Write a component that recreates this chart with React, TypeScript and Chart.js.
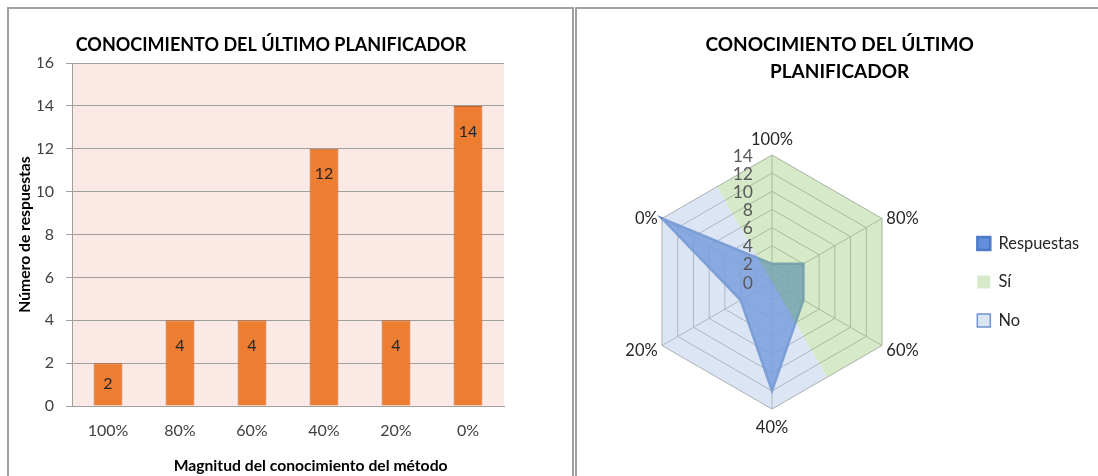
import React, { useEffect, useRef } from "react";
import { Chart, registerables } from "chart.js";

Chart.register(...registerables);

// Categorías (magnitud del conocimiento) y número de respuestas por categoría
const niveles = ["100%", "80%", "60%", "40%", "20%", "0%"];
const respuestas = [2, 4, 4, 12, 4, 14];

// Escalas
const ejeYMax = 16;
const ejeYPaso = 2;
const radarMax = 14;
const radarPaso = 2;

// Categorías que agrupa cada sector del radar
const nivelesSi = ["100%", "80%", "60%"];
const nivelesNo = ["40%", "20%", "0%"];

// Textos
const titulo = "CONOCIMIENTO DEL ÚLTIMO PLANIFICADOR";
const tituloRadar = ["CONOCIMIENTO DEL ÚLTIMO", "PLANIFICADOR"];
const tituloEjeX = "Magnitud del conocimiento del método";
const tituloEjeY = "Número de respuestas";
const serieRespuestas = "Respuestas";
const serieSi = "Sí";
const serieNo = "No";

const FUENTE = "Lato, 'Open Sans', sans-serif";

// Fondo rosado del área de trazado
const fondoArea = {
  id: "fondoArea",
  beforeDraw(chart: any, _args: any, opts: any) {
    const { ctx, chartArea } = chart;
    ctx.save();
    ctx.fillStyle = opts.color;
    ctx.fillRect(chartArea.left, chartArea.top, chartArea.width, chartArea.height);
    ctx.restore();
  },
};

// Título del eje de categorías, algo desplazado a la derecha del centro del área
const tituloEje = {
  id: "tituloEje",
  afterDraw(chart: any, _args: any, opts: any) {
    const { ctx, chartArea, scales } = chart;
    ctx.save();
    ctx.font = `bold 15.7px ${FUENTE}`;
    ctx.fillStyle = "#000";
    ctx.textAlign = "center";
    ctx.textBaseline = "middle";
    ctx.fillText(
      opts.text,
      (chartArea.left + chartArea.right) / 2 + opts.desplazamiento,
      scales.x.bottom - 10
    );
    ctx.restore();
  },
};

// Valor de cada barra, dentro del extremo superior
const etiquetasBarras = {
  id: "etiquetasBarras",
  afterDatasetsDraw(chart: any) {
    const { ctx } = chart;
    const meta = chart.getDatasetMeta(0);
    const datos = chart.data.datasets[0].data;
    ctx.save();
    ctx.font = `16px ${FUENTE}`;
    ctx.fillStyle = "#262626";
    ctx.textAlign = "center";
    ctx.textBaseline = "middle";
    meta.data.forEach((barra: any, i: number) => {
      const { x, y, base } = barra.getProps(["x", "y", "base"], true);
      const yTexto = Math.min(y + 25.5, (y + base) / 2);
      ctx.fillText(String(datos[i]), x, yTexto);
    });
    ctx.restore();
  },
};

// Sectores "Sí" / "No": medio hexágono que cubre sus categorías hasta el máximo de la escala
const sectoresRadar = {
  id: "sectoresRadar",
  afterDatasetsDraw(chart: any) {
    const scale = chart.scales.r;
    const etiquetas: string[] = chart.data.labels;
    const n = etiquetas.length;
    const ctx = chart.ctx;
    const vertice = (i: number) =>
      scale.getPointPositionForValue(((i % n) + n) % n, scale.max);
    const medio = (a: any, b: any) => ({ x: (a.x + b.x) / 2, y: (a.y + b.y) / 2 });
    const grupos: [string[], string][] = [
      [nivelesSi, chart.data.datasets[1].backgroundColor],
      [nivelesNo, chart.data.datasets[2].backgroundColor],
    ];
    ctx.save();
    grupos.forEach(([grupo, color]) => {
      const idx = grupo.map((l) => etiquetas.indexOf(l));
      const primero = idx[0];
      const ultimo = idx[idx.length - 1];
      const inicio = medio(vertice(primero - 1), vertice(primero));
      const fin = medio(vertice(ultimo), vertice(ultimo + 1));
      ctx.beginPath();
      ctx.moveTo(scale.xCenter, scale.yCenter);
      ctx.lineTo(inicio.x, inicio.y);
      idx.forEach((i) => {
        const p = vertice(i);
        ctx.lineTo(p.x, p.y);
      });
      ctx.lineTo(fin.x, fin.y);
      ctx.closePath();
      ctx.fillStyle = color;
      ctx.fill();
    });
    ctx.restore();
  },
};

// Rótulos de la escala radial y de las categorías
const rotulosRadar = {
  id: "rotulosRadar",
  afterDraw(chart: any) {
    const scale = chart.scales.r;
    const ctx = chart.ctx;
    const etiquetas: string[] = chart.data.labels;
    ctx.save();
    ctx.font = `17.5px ${FUENTE}`;
    ctx.fillStyle = "#595959";
    ctx.textAlign = "right";
    ctx.textBaseline = "middle";
    scale.ticks.forEach((t: any) => {
      const d = scale.getDistanceFromCenterForValue(t.value);
      ctx.fillText(String(t.value), scale.xCenter - 19, scale.yCenter - d + 1);
    });
    ctx.font = `16.5px ${FUENTE}`;
    ctx.fillStyle = "#262626";
    etiquetas.forEach((l, i) => {
      const ang = scale.getIndexAngle(i);
      const s = Math.sin(ang);
      if (Math.abs(s) < 0.01) {
        const arriba = Math.cos(ang) > 0;
        const p = scale.getPointPosition(i, scale.drawingArea + (arriba ? 15.5 : 18.5));
        ctx.textAlign = "center";
        ctx.fillText(l, p.x, p.y);
      } else {
        const p = scale.getPointPosition(i, scale.drawingArea + 5);
        ctx.textAlign = s > 0 ? "left" : "right";
        ctx.fillText(l, p.x, p.y + 3);
      }
    });
    ctx.restore();
  },
};

export default function App() {
  const barRef = useRef<HTMLCanvasElement>(null);
  const radarRef = useRef<HTMLCanvasElement>(null);

  useEffect(() => {
    Chart.defaults.font.family = FUENTE;

    const barras = new Chart(barRef.current as HTMLCanvasElement, {
      type: "bar",
      data: {
        labels: niveles,
        datasets: [
          {
            label: serieRespuestas,
            data: respuestas,
            backgroundColor: "#ED7D31",
            borderColor: "#BE6128",
            borderWidth: 1,
            barPercentage: 0.4,
            categoryPercentage: 1,
          },
        ],
      },
      options: {
        responsive: false,
        animation: false,
        layout: { padding: { left: 29, right: 29, top: 0, bottom: 0 } },
        plugins: {
          legend: { display: false },
          tooltip: { enabled: false },
          title: {
            display: true,
            text: titulo,
            color: "#000",
            font: { size: 18, weight: "bold", lineHeight: 1.2 },
            padding: { top: 25.2, bottom: 7.2 },
          },
          fondoArea: { color: "#FAE9E4" },
          tituloEje: { text: tituloEjeX, desplazamiento: 22.6 },
        } as any,
        scales: {
          x: {
            grid: { display: false, drawTicks: false },
            border: { display: true, color: "#A0A0A0", width: 1 },
            ticks: { color: "#404040", font: { size: 16 }, padding: 15.4 },
            afterFit: (s: any) => {
              s.height = 70;
            },
          },
          y: {
            min: 0,
            max: ejeYMax,
            ticks: { stepSize: ejeYPaso, color: "#404040", font: { size: 16 }, padding: 12 },
            grid: { color: "#A0A0A0", tickLength: 6, drawTicks: true },
            border: { display: true, color: "#A0A0A0" },
            title: {
              display: true,
              text: tituloEjeY,
              color: "#000",
              font: { size: 15.7, weight: "bold" },
              padding: { top: -22.4, bottom: 0 },
            },
            afterFit: (s: any) => {
              s.width = 34;
            },
          },
        },
      },
      plugins: [fondoArea, etiquetasBarras, tituloEje],
    });

    const radar = new Chart(radarRef.current as HTMLCanvasElement, {
      type: "radar",
      data: {
        labels: niveles,
        datasets: [
          {
            label: serieRespuestas,
            data: respuestas,
            backgroundColor: "rgba(72,122,212,0.85)",
            borderColor: "rgba(68,114,196,0.9)",
            borderWidth: 2.5,
            pointRadius: 0,
            fill: true,
          },
          {
            label: serieSi,
            data: [],
            backgroundColor: "rgba(169,209,142,0.48)",
            borderColor: "rgba(0,0,0,0)",
            borderWidth: 0,
          },
          {
            label: serieNo,
            data: [],
            backgroundColor: "rgba(180,199,231,0.47)",
            borderColor: "#6F93D3",
            borderWidth: 1.5,
          },
        ],
      },
      options: {
        responsive: false,
        animation: false,
        layout: { padding: { top: 0, bottom: 67, left: 13, right: 8.8 } },
        plugins: {
          tooltip: { enabled: false },
          title: {
            display: true,
            text: tituloRadar,
            color: "#000",
            font: { size: 19, weight: "bold", lineHeight: "27px" },
            padding: { top: 22.5, bottom: 69.5 },
          },
          legend: {
            position: "right",
            fullSize: false,
            labels: {
              boxWidth: 13,
              boxHeight: 13,
              padding: 22,
              color: "#262626",
              font: { size: 16.4 },
            },
          },
        },
        scales: {
          r: {
            min: 0,
            max: radarMax,
            ticks: { stepSize: radarPaso, display: false },
            pointLabels: { display: false },
            grid: { color: "#A6A6A6", lineWidth: 1 },
            angleLines: { color: "#A6A6A6", lineWidth: 1 },
          },
        },
      },
      plugins: [sectoresRadar, rotulosRadar],
    });

    return () => {
      barras.destroy();
      radar.destroy();
    };
  }, []);

  const marco = "2px solid #A0A0A0";
  return (
    <div>
      <div
        style={{
          position: "fixed",
          left: 7,
          top: 7,
          width: 567,
          height: 490,
          boxSizing: "border-box",
          borderTop: marco,
          borderLeft: marco,
          borderRight: marco,
          background: "#fff",
        }}
      />
      <div
        style={{
          position: "fixed",
          left: 575,
          top: 7,
          width: 560,
          height: 490,
          boxSizing: "border-box",
          borderTop: marco,
          borderLeft: marco,
          background: "#fff",
        }}
      />
      <canvas
        ref={barRef}
        width={524}
        height={467}
        style={{ position: "fixed", left: 9, top: 9, display: "block" }}
      />
      <canvas
        ref={radarRef}
        width={521}
        height={467}
        style={{ position: "fixed", left: 577, top: 9, display: "block" }}
      />
    </div>
  );
}
